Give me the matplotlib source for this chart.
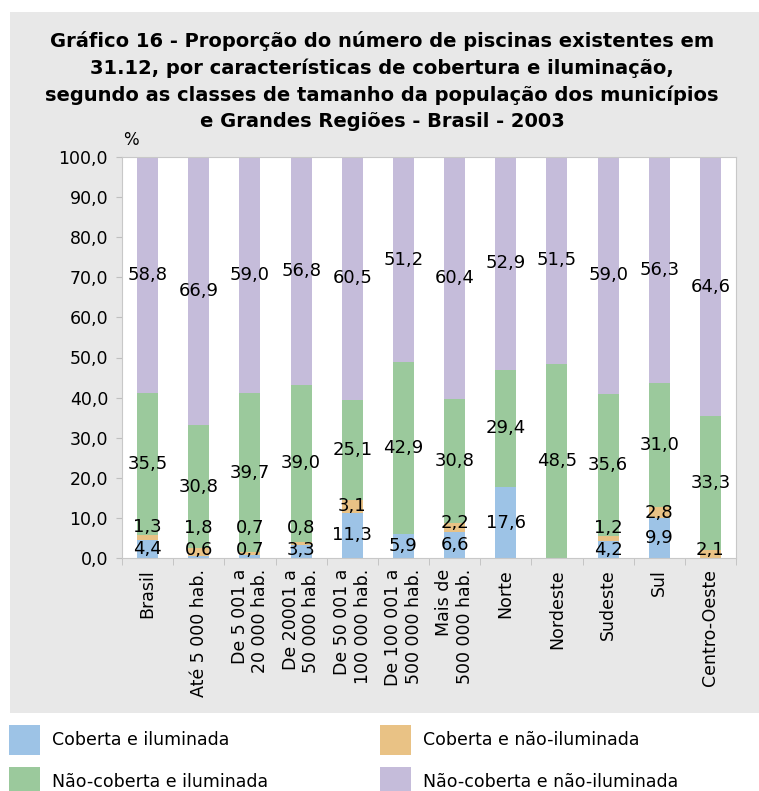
import matplotlib.pyplot as plt
from matplotlib.patches import Rectangle
import numpy as np

categorias = ["Brasil", "Até 5 000 hab.", "De 5 001 a\n20 000 hab.", "De 20001 a\n50 000 hab.",
              "De 50 001 a\n100 000 hab.", "De 100 001 a\n500 000 hab.", "Mais de\n500 000 hab.",
              "Norte", "Nordeste", "Sudeste", "Sul", "Centro-Oeste"]
cob_ilum = [4.4, 0.6, 0.7, 3.3, 11.3, 5.9, 6.6, 17.6, 0.0, 4.2, 9.9, 0.0]
cob_nao_ilum = [1.3, 1.8, 0.7, 0.8, 3.1, 0.0, 2.2, 0.0, 0.0, 1.2, 2.8, 2.1]
nao_cob_ilum = [35.5, 30.8, 39.7, 39.0, 25.1, 42.9, 30.8, 29.4, 48.5, 35.6, 31.0, 33.3]
nao_cob_nao_ilum = [58.8, 66.9, 59.0, 56.8, 60.5, 51.2, 60.4, 52.9, 51.5, 59.0, 56.3, 64.6]

series = [cob_ilum, cob_nao_ilum, nao_cob_ilum, nao_cob_nao_ilum]
nomes = ["Coberta e iluminada", "Coberta e não-iluminada",
         "Não-coberta e iluminada", "Não-coberta e não-iluminada"]
cores = ["#9dc3e6", "#e9c285", "#9bc99c", "#c5bcda"]

fig = plt.figure(figsize=(7.59, 7.91), dpi=100)
fig.patch.set_facecolor("white")
fig.add_artist(Rectangle((10/759, 1-713/791), 1-10/759, 701/791, transform=fig.transFigure,
                         facecolor="#e8e8e8", edgecolor="none", zorder=-10))

ax = fig.add_axes([122/759, 1-558/791, 614/759, 401/791])
ax.set_facecolor("white")

x = np.arange(len(categorias))
base = np.zeros(len(categorias))
label_pos = [[] for _ in categorias]
for vals, cor in zip(series, cores):
    vals = np.array(vals)
    ax.bar(x, vals, width=0.41, bottom=base, color=cor, edgecolor="none")
    for i in range(len(x)):
        if vals[i] > 0:
            label_pos[i].append((base[i] + vals[i] / 2, vals[i]))
    base = base + vals

# labels: centered, pushed up a bit when small segments would overlap
for i in range(len(x)):
    prev = 2.0 - 5.5
    for yc, v in label_pos[i]:
        y = max(yc, prev + 5.5)
        ax.text(x[i], y, f"{v:.1f}".replace(".", ","), ha="center", va="center", fontsize=13)
        prev = y

ax.set_xlim(-0.5, len(x) - 0.5)
ax.set_ylim(0, 100)
ax.set_yticks(np.arange(0, 101, 10))
ax.set_yticklabels([f"{v:.1f}".replace(".", ",") for v in np.arange(0, 101, 10)], fontsize=12.5)
ax.set_xticks(x)
ax.set_xticklabels(categorias, rotation=90, fontsize=12.5, ha="center", va="top", multialignment="right")
ax.set_xticks(np.arange(-0.5, len(x), 1), minor=True)
ax.tick_params(axis="x", which="major", length=0, pad=8)
ax.tick_params(axis="x", which="minor", length=5, color="#bfbfbf")
ax.tick_params(axis="y", length=4, color="#bfbfbf", pad=6)
for s in ax.spines.values():
    s.set_color("#c8c8c8")

fig.text(131/759, 1-140/791, "%", ha="center", va="center", fontsize=12)
fig.text(382/759, 1-81/791,
         "Gráfico 16 - Proporção do número de piscinas existentes em\n"
         "31.12, por características de cobertura e iluminação,\n"
         "segundo as classes de tamanho da população dos municípios\n"
         "e Grandes Regiões - Brasil - 2003",
         ha="center", va="center", fontsize=14, fontweight="bold", linespacing=1.46)

# legend
leg_x = [9, 380, 9, 380]
leg_y = [725, 725, 767, 767]
for nome, cor, lx, ly in zip(nomes, cores, leg_x, leg_y):
    fig.add_artist(Rectangle((lx/759, 1-(ly+30)/791), 31/759, 30/791, transform=fig.transFigure,
                             facecolor=cor, edgecolor="none"))
    fig.text((lx+43)/759, 1-(ly+15)/791, nome, ha="left", va="center", fontsize=12.5)

fig.savefig("out.png", dpi=100)
